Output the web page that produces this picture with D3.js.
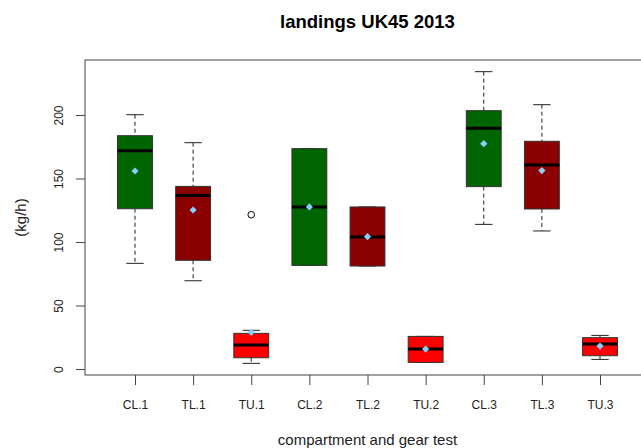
<!DOCTYPE html>
<html>
<head>
<meta charset="utf-8">
<script src="https://cdn.jsdelivr.net/npm/d3@7"></script>
<style>
  html, body { margin: 0; padding: 0; background: #fff; }
  svg { display: block; font-family: "Liberation Sans", Arial, sans-serif; }
</style>
</head>
<body>
<svg id="chart" width="641" height="448"></svg>
<script>
// Landings per compartment and gear test (kg/h)
const categories  = ["CL.1", "TL.1", "TU.1", "CL.2", "TL.2", "TU.2", "CL.3", "TL.3", "TU.3"];
const whiskerLow  = [83.2, 69.5, 4.5, 81.6, 81.1, 5.2, 113.9, 108.7, 7.6];
const lowerHinge  = [126.2, 85.6, 8.9, 81.6, 81.1, 5.2, 143.6, 126.0, 10.5];
const medians     = [171.9, 136.7, 18.9, 127.6, 103.9, 15.7, 189.5, 160.6, 19.7];
const upperHinge  = [183.7, 143.8, 28.1, 173.5, 127.6, 25.7, 203.4, 179.3, 24.7];
const whiskerHigh = [200.2, 178.2, 30.5, 173.5, 127.6, 25.7, 234.1, 208.1, 26.5];
const means       = [155.9, 125.2, 28.9, 127.6, 104.2, 15.7, 177.4, 156.2, 18.1];
const outlierCats = ["TU.1"];
const outlierVals = [121.5];
const yTicks      = [0, 50, 100, 150, 200];
const gearColors  = { CL: "#006400", TL: "#8B0000", TU: "#FF0000" };

const svg = d3.select("#chart");
const plot = { left: 85, right: 650, top: 60, bottom: 375 };

// R-style axis ranges: 4% padding around the data
const allVals = whiskerLow.concat(whiskerHigh, outlierVals);
const yMin = d3.min(allVals), yMax = d3.max(allVals);
const yPad = (yMax - yMin) * 0.04;
const y = d3.scaleLinear().domain([yMin - yPad, yMax + yPad]).range([plot.bottom, plot.top]);

const n = categories.length;
const xPad = n * 0.04;
const x = d3.scaleLinear().domain([0.5 - xPad, n + 0.5 + xPad]).range([plot.left, plot.right]);
const pos = c => x(categories.indexOf(c) + 1);

const boxHalf = (x(1.3) - x(1));
const capHalf = boxHalf / 2;

const boxes = categories.map((c, i) => ({
  cat: c, lo: whiskerLow[i], q1: lowerHinge[i], med: medians[i],
  q3: upperHinge[i], hi: whiskerHigh[i], mean: means[i],
  color: gearColors[c.split(".")[0]]
}));

const g = svg.append("g");

// whiskers (dashed) and staples
const wk = g.selectAll("g.box").data(boxes).join("g").attr("class", "box");
wk.append("line")
  .attr("x1", d => pos(d.cat)).attr("x2", d => pos(d.cat))
  .attr("y1", d => y(d.hi)).attr("y2", d => y(d.q3))
  .attr("stroke", "#222").attr("stroke-width", 1).attr("stroke-dasharray", "4,3");
wk.append("line")
  .attr("x1", d => pos(d.cat)).attr("x2", d => pos(d.cat))
  .attr("y1", d => y(d.q1)).attr("y2", d => y(d.lo))
  .attr("stroke", "#222").attr("stroke-width", 1).attr("stroke-dasharray", "4,3");
wk.append("line")
  .attr("x1", d => pos(d.cat) - capHalf).attr("x2", d => pos(d.cat) + capHalf)
  .attr("y1", d => y(d.hi)).attr("y2", d => y(d.hi))
  .attr("stroke", "#222").attr("stroke-width", 1);
wk.append("line")
  .attr("x1", d => pos(d.cat) - capHalf).attr("x2", d => pos(d.cat) + capHalf)
  .attr("y1", d => y(d.lo)).attr("y2", d => y(d.lo))
  .attr("stroke", "#222").attr("stroke-width", 1);

// boxes
wk.append("rect")
  .attr("x", d => pos(d.cat) - boxHalf)
  .attr("width", boxHalf * 2)
  .attr("y", d => y(d.q3))
  .attr("height", d => y(d.q1) - y(d.q3))
  .attr("fill", d => d.color)
  .attr("stroke", "#333").attr("stroke-width", 1);

// medians
wk.append("line")
  .attr("x1", d => pos(d.cat) - boxHalf).attr("x2", d => pos(d.cat) + boxHalf)
  .attr("y1", d => y(d.med)).attr("y2", d => y(d.med))
  .attr("stroke", "#000").attr("stroke-width", 3);

// outliers
g.selectAll("circle.out").data(outlierCats.map((c, i) => ({ cat: c, v: outlierVals[i] })))
  .join("circle").attr("class", "out")
  .attr("cx", d => pos(d.cat)).attr("cy", d => y(d.v)).attr("r", 3.3)
  .attr("fill", "none").attr("stroke", "#000").attr("stroke-width", 1);

// means as filled diamonds
const diamond = d3.symbol().type(d3.symbolSquare).size(26);
wk.append("path")
  .attr("d", diamond)
  .attr("transform", d => `translate(${pos(d.cat)},${y(d.mean)}) rotate(45)`)
  .attr("fill", "#87CEFA");

// plot frame
svg.append("rect")
  .attr("x", plot.left).attr("y", plot.top)
  .attr("width", plot.right - plot.left).attr("height", plot.bottom - plot.top)
  .attr("fill", "none").attr("stroke", "#444").attr("stroke-width", 1);

// y axis
const yAxis = svg.append("g")
  .attr("transform", `translate(${plot.left},0)`)
  .call(d3.axisLeft(y).tickValues(yTicks).tickSize(9).tickFormat(d3.format("d")));
yAxis.select(".domain").remove();
yAxis.selectAll(".tick line").attr("stroke", "#444");
yAxis.selectAll(".tick text")
  .attr("transform", "rotate(-90)")
  .attr("x", 0).attr("y", -22).attr("dy", 0)
  .attr("text-anchor", "middle")
  .attr("font-size", 12).attr("fill", "#222")
  .attr("font-family", "Liberation Sans, Arial, sans-serif");

// x axis
const xAxis = svg.append("g")
  .attr("transform", `translate(0,${plot.bottom})`)
  .call(d3.axisBottom(x).tickValues(d3.range(1, n + 1)).tickSize(10)
    .tickFormat(i => categories[i - 1]));
xAxis.select(".domain").remove();
xAxis.selectAll(".tick line").attr("stroke", "#444");
xAxis.selectAll(".tick text")
  .attr("y", 34).attr("dy", 0)
  .attr("font-size", 12).attr("fill", "#222")
  .attr("font-family", "Liberation Sans, Arial, sans-serif");

// titles
const midX = (plot.left + plot.right) / 2;
svg.append("text")
  .attr("x", midX).attr("y", 28)
  .attr("text-anchor", "middle")
  .attr("font-size", 18.5).attr("font-weight", "bold").attr("fill", "#000")
  .text("landings UK45 2013");

svg.append("text")
  .attr("x", midX).attr("y", 445)
  .attr("text-anchor", "middle")
  .attr("font-size", 15).attr("fill", "#222")
  .text("compartment and gear test");

svg.append("text")
  .attr("transform", `translate(26,${(plot.top + plot.bottom) / 2}) rotate(-90)`)
  .attr("text-anchor", "middle")
  .attr("font-size", 15).attr("fill", "#222")
  .text("(kg/h)");
</script>
</body>
</html>
